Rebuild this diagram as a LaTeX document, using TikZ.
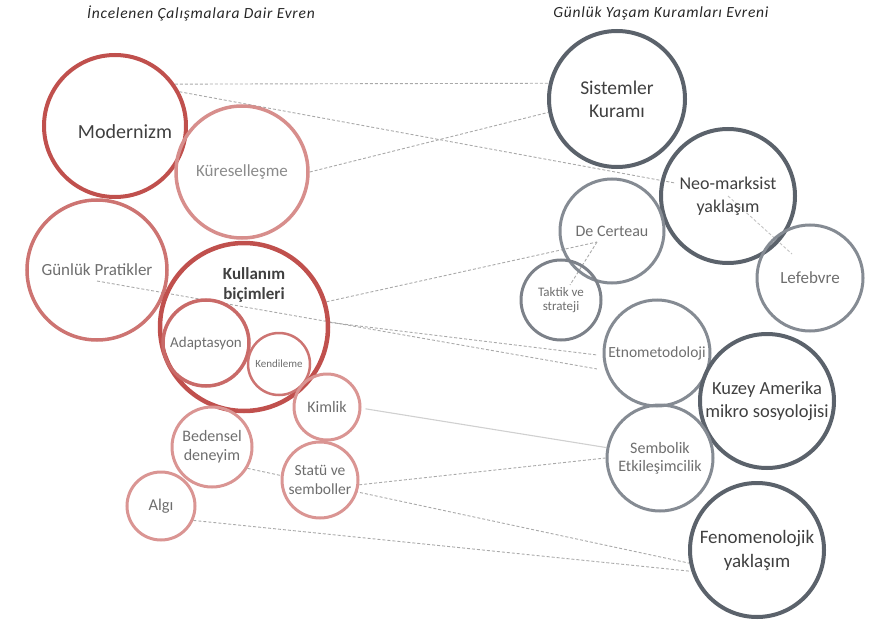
\documentclass[tikz,border=0pt]{standalone}
\usepackage{fontspec}
\setmainfont{Carlito}
\newfontfamily\titlefont[LetterSpace=5]{Carlito}
\usetikzlibrary{backgrounds}

\definecolor{redDark}{HTML}{C0504D}
\definecolor{redMid}{HTML}{CD7472}
\definecolor{redLight}{HTML}{DA9593}
\definecolor{grayDark}{HTML}{5B626B}
\definecolor{grayMid}{HTML}{858B93}
\definecolor{txtDark}{HTML}{404040}
\definecolor{txtLight}{HTML}{6E6E6E}
\definecolor{lineGray}{HTML}{A9A9A9}

\newcommand{\fs}[2]{\fontsize{#1}{#2}\selectfont}

\begin{document}
\begin{tikzpicture}[x=1pt, y=-1pt,
	bubble/.style={circle, inner sep=0pt, align=center, minimum size=#1},
	red/.style={draw=redLight, line width=3pt, text=txtLight},
	gray/.style={draw=grayMid, line width=3pt, text=txtLight},
	conn/.style={draw=lineGray, line width=0.9pt, dash pattern=on 3pt off 2pt},
	connsolid/.style={draw=lineGray!55, line width=1.1pt}]
	\useasboundingbox (0,0) rectangle (870,623);

	% titles
	\node(titleL) at (201,13){\titlefont\itshape\fs{15.5}{18}\color{black!85}İncelenen Çalışmalara Dair Evren};
	\node(titleR) at (661,13){\titlefont\itshape\fs{15.5}{18}\color{black!85}Günlük Yaşam Kuramları Evreni};

	% left universe
	\node[bubble=142pt, red, draw=redDark, line width=4pt, label={[xshift=10pt, yshift=-6pt, text=txtDark, font=\fs{20}{24}]center:Modernizm}](mod) at (115,126){};
	\node[bubble=132pt, red, draw=redLight!90!redDark, line width=3.5pt, font=\fs{17}{20}, text=txtLight!80!white](kur) at (242,172){Küreselleşme};
	\node[bubble=140pt, red, draw=redMid, line width=3.5pt, font=\fs{17}{20}](gp) at (97,270){Günlük Pratikler};
	\node[bubble=168pt, red, draw=redDark, line width=4.5pt, label={[xshift=10pt, yshift=42pt, align=center, text=txtDark, font=\bfseries\fs{17}{20}]center:Kullanım\\biçimleri}](kul) at (244,327){};
	\node[bubble=86pt, red, draw=redDark!85!white, line width=3.5pt, font=\fs{15}{18}](ada) at (206,343){Adaptasyon};
	\node[bubble=62pt, red, draw=redMid, line width=2.5pt, font=\fs{11}{13}](ken) at (279,364){Kendileme};
	\node[bubble=66pt, red, font=\fs{16}{19}](kim) at (327,407){Kimlik};
	\node[bubble=80pt, red, font=\fs{16}{19}](bed) at (212,447){Bedensel\\deneyim};
	\node[bubble=76pt, red, fill=white, font=\fs{15.5}{19}](sta) at (320,480){Statü ve\\semboller};
	\node[bubble=68pt, red, font=\fs{16.5}{19}](alg) at (161,506){Algı};

	% right universe
	\node[bubble=136pt, gray, draw=grayDark, line width=4pt, text=txtDark, font=\fs{19.5}{23}](sys) at (617,99){Sistemler\\Kuramı};
	\node[bubble=134pt, gray, draw=grayDark, line width=4pt, text=txtDark, font=\fs{18}{23}](neo) at (728,196){Neo-marksist\\yaklaşım};
	\node[bubble=104pt, gray, font=\fs{16}{19}](dec) at (612,231){De Certeau};
	\node[bubble=80pt, gray, draw=grayDark!80!white, font=\fs{13}{14.5}](tak) at (561,300){Taktik ve\\strateji};
	\node[bubble=106pt, gray, font=\fs{17}{20}](lef) at (810,278){Lefebvre};
	\node[bubble=106pt, gray, font=\fs{15.5}{19}](etn) at (657,353){Etnometodoloji};
	\node[bubble=134pt, gray, draw=grayDark, line width=4pt, text=txtDark, font=\fs{18.5}{23}](kuz) at (767,401){Kuzey Amerika\\mikro sosyolojisi};
	\node[bubble=106pt, gray, font=\fs{16}{18}](sem) at (660,458){Sembolik\\Etkileşimcilik};
	\node[bubble=134pt, gray, draw=grayDark, line width=4pt, text=txtDark, font=\fs{19}{24}](fen) at (757,550){Fenomenolojik\\yaklaşım};

	\coordinate(gpin) at (97,281);
	\coordinate(neoin) at (675,183);
	\coordinate(lefin) at (792,254);
	\coordinate(decin) at (597,242);
	\coordinate(takin) at (570,285);

	% links
	\begin{scope}[on background layer]
	\draw[conn] (mod.35) -- (sys.167);
	\draw[conn] (mod.28) -- (neoin);
	\draw[conn] (kur.east) -- (sys.191);
	\draw[conn, draw=lineGray!70] (neo.center) -- (lefin);
	\draw[conn] (kul.17) -- (decin);
	\draw[conn] (decin) -- (takin);
	\draw[conn] (kul.3) -- ([xshift=-6pt]etn.182);
	\draw[conn] (gpin) -- ([xshift=-8pt]etn.197);
	\draw[connsolid] ([xshift=4pt]kim.-3) -- (sem.169);
	\draw[conn] (sta.-7) -- (sem.180);
	\draw[conn] (bed.-31) -- (fen.191);
	\draw[conn] (alg.-24) -- (fen.198);
	\end{scope}
\end{tikzpicture}
\end{document}
